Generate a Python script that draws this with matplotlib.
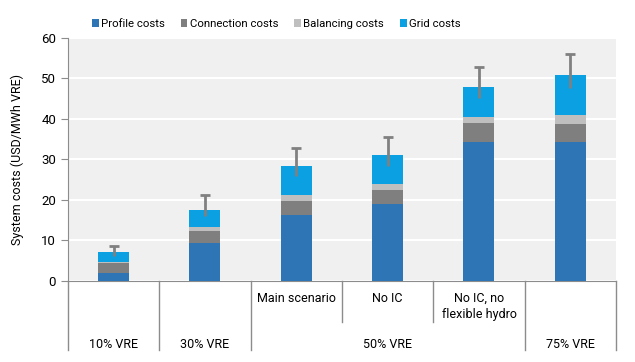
import numpy as np
import matplotlib.pyplot as plt
import matplotlib.transforms as mtransforms

plt.rcParams['font.family'] = ['Roboto', 'DejaVu Sans']

# data
scenarios = ['', '', 'Main scenario', 'No IC', 'No IC, no\nflexible hydro', '']
groups = [('10% VRE', 0, 0), ('30% VRE', 1, 1), ('50% VRE', 2, 4), ('75% VRE', 5, 5)]
profile = [2.0, 9.4, 16.2, 18.9, 34.4, 34.3]
connection = [2.35, 2.9, 3.5, 3.5, 4.5, 4.5]
balancing = [0.3, 0.9, 1.6, 1.6, 1.7, 2.3]
grid = [2.6, 4.4, 7.0, 7.1, 7.3, 9.7]
err_low = [6.1, 16.1, 26.0, 28.5, 45.3, 47.6]
err_high = [8.6, 21.3, 32.9, 35.6, 52.9, 56.1]

series = [('Profile costs', profile, '#2e75b6'),
          ('Connection costs', connection, '#7f7f7f'),
          ('Balancing costs', balancing, '#bfbfbf'),
          ('Grid costs', grid, '#0aa0e2')]

fig = plt.figure(figsize=(6.35, 3.62), dpi=100)
ax = fig.add_axes([0.107, 0.224, 0.863, 0.671])
ax.set_facecolor('#f0f0f0')

x = np.arange(len(profile))
bottom = np.zeros(len(x))
for name, vals, col in series:
    ax.bar(x, vals, 0.34, bottom=bottom, color=col, label=name, zorder=3)
    bottom += np.array(vals)

totals = bottom
lo = totals - np.array(err_low)
hi = np.array(err_high) - totals
eb = ax.errorbar(x, totals, yerr=[lo, hi], fmt='none', ecolor='#808080',
                 elinewidth=2, capsize=3.5, capthick=2, zorder=4)
eb[1][0].set_visible(False)

ax.set_xlim(-0.5, len(x) - 0.5)
ax.set_ylim(0, 60)
ax.set_yticks(range(0, 61, 10))
ax.grid(axis='y', color='white', linewidth=1.5, zorder=0)
ax.set_axisbelow(True)
for s in ['top', 'right']:
    ax.spines[s].set_visible(False)
for s in ['left', 'bottom']:
    ax.spines[s].set_color('#8c8c8c')
ax.tick_params(axis='y', colors='#8c8c8c', labelcolor='black', length=5, labelsize=9.5)
ax.set_xticks([])
ax.set_ylabel('System costs (USD/MWh VRE)', fontsize=9, labelpad=12)

# category table under the axis
trans = mtransforms.blended_transform_factory(ax.transData, ax.transAxes)
full = [0, 1, 2, 5, 6]
for b in range(len(x) + 1):
    ybot = -0.285 if b in full else -0.17
    ax.plot([b - 0.5, b - 0.5], [0, ybot], transform=trans, color='#8c8c8c',
            linewidth=1, clip_on=False)
for i, lab in enumerate(scenarios):
    if lab:
        ax.text(i, -0.045, lab, transform=trans, ha='center', va='top', fontsize=9,
                linespacing=1.3)
for lab, a, b in groups:
    ax.text((a + b) / 2, -0.26, lab, transform=trans, ha='center', va='center', fontsize=9)

ax.legend(loc='lower center', bbox_to_anchor=(0.38, 1.0), ncol=4, frameon=False,
          fontsize=8.2, handlelength=0.6, handleheight=0.6, handletextpad=0.2,
          columnspacing=1.4, borderaxespad=0.4)

fig.savefig('out.png', dpi=100)
